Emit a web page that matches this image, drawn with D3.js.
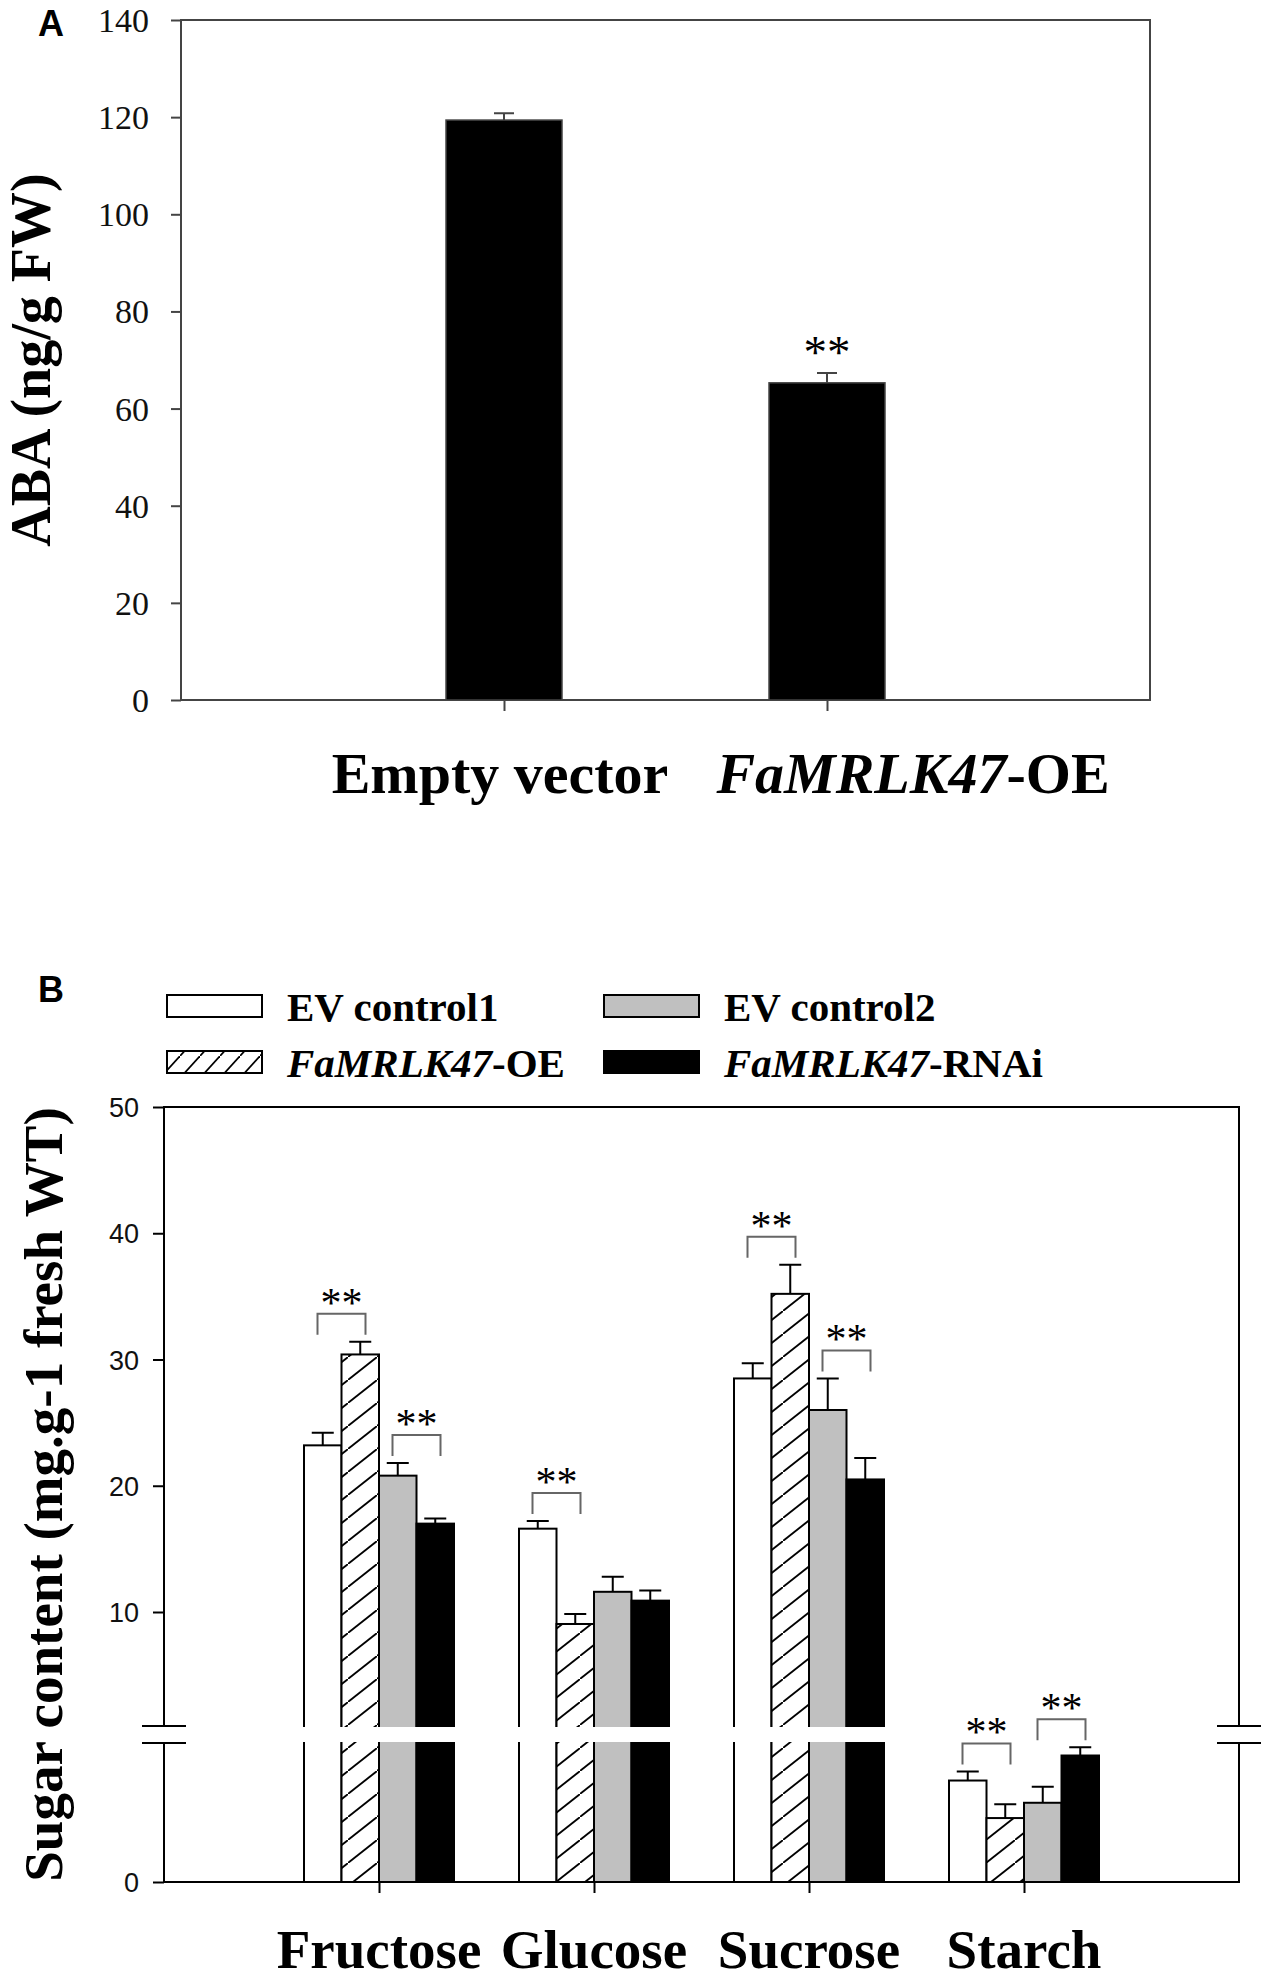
<!DOCTYPE html>
<html>
<head>
<meta charset="utf-8">
<script src="https://cdn.jsdelivr.net/npm/d3@7"></script>
<style>
  html, body { margin: 0; padding: 0; background: #fff; }
  svg { display: block; }
  .serif-ticks text { font-family: "Liberation Serif", "Times New Roman", serif !important; }
</style>
</head>
<body>
<svg id="chart" width="1270" height="1979"></svg>
<script>
// ---- Panel A data ----
const abaGroups = ['Empty vector', 'FaMRLK47-OE'];
const abaValues = [119.4, 65.3];
const abaErrors = [1.4, 2.0];
const abaStars = ['', '**'];
const abaTicks = [0, 20, 40, 60, 80, 100, 120, 140];

// ---- Panel B data ----
const sugars = ['Fructose', 'Glucose', 'Sucrose', 'Starch'];
const lines = ['EV control1', 'FaMRLK47-OE', 'EV control2', 'FaMRLK47-RNAi'];
const ev1Values = [23.2, 16.6, 28.5, 0.73];
const ev1Errors = [1.0, 0.6, 1.2, 0.065];
const oeValues = [30.4, 9.05, 35.2, 0.46];
const oeErrors = [1.0, 0.8, 2.3, 0.10];
const ev2Values = [20.8, 11.6, 26.0, 0.57];
const ev2Errors = [1.0, 1.2, 2.5, 0.115];
const rnaiValues = [17.0, 10.9, 20.5, 0.91];
const rnaiErrors = [0.4, 0.8, 1.7, 0.06];
// significance brackets: [sugar index, line a, line b]
const sugarSig = [[0, 0, 1], [0, 2, 3], [1, 0, 1], [2, 0, 1], [2, 2, 3], [3, 0, 1], [3, 2, 3]];
const sugarTicks = [0, 10, 20, 30, 40, 50];

const svg = d3.select('#chart');
const serif = '"Liberation Serif", "Times New Roman", serif';
const sans = '"Liberation Sans", Arial, sans-serif';

const defs = svg.append('defs');
function hatch(id, w, h) {
  const p = defs.append('pattern')
    .attr('id', id)
    .attr('patternUnits', 'userSpaceOnUse')
    .attr('width', w)
    .attr('height', h);
  p.append('rect').attr('width', w).attr('height', h).attr('fill', '#fff');
  p.append('line')
    .attr('x1', 0).attr('y1', h).attr('x2', w).attr('y2', 0)
    .attr('stroke', '#000').attr('stroke-width', 1.8);
}
hatch('hatchBar', 29, 23);
hatch('hatchKey', 20, 22);

// ================= Panel A =================
function drawPanelA() {
  const left = 181, right = 1150, top = 20, bottom = 700;
  const stroke = '#444';
  const g = svg.append('g').attr('class', 'panel-a');

  const x = d3.scalePoint().domain(abaGroups).range([left, right]).padding(1);
  const y = d3.scaleLinear().domain([0, 140]).range([bottom, top]);
  const barW = 116;

  // frame
  g.append('rect')
    .attr('x', left).attr('y', top)
    .attr('width', right - left).attr('height', bottom - top)
    .attr('fill', 'none').attr('stroke', stroke).attr('stroke-width', 2);

  // y axis (Times-style numbers)
  const yAxis = g.append('g')
    .attr('class', 'serif-ticks')
    .attr('transform', `translate(${left},0)`)
    .call(d3.axisLeft(y).tickValues(abaTicks).tickSize(10).tickPadding(22).tickSizeOuter(0));
  yAxis.attr('font-family', serif).attr('font-size', 34);
  yAxis.select('.domain').remove();
  yAxis.selectAll('line').attr('stroke', stroke).attr('stroke-width', 2);
  yAxis.selectAll('text')
    .attr('font-family', serif).attr('font-size', 34).attr('fill', '#111')
    .attr('dy', '0.34em');

  // x ticks
  const xAxis = g.append('g')
    .attr('transform', `translate(0,${bottom})`)
    .call(d3.axisBottom(x).tickSize(11).tickFormat(''));
  xAxis.select('.domain').remove();
  xAxis.selectAll('line').attr('stroke', stroke).attr('stroke-width', 2);

  // bars
  g.selectAll('rect.bar')
    .data(abaGroups)
    .join('rect')
    .attr('class', 'bar')
    .attr('x', d => x(d) - barW / 2)
    .attr('y', (d, i) => y(abaValues[i]))
    .attr('width', barW)
    .attr('height', (d, i) => y(0) - y(abaValues[i]))
    .attr('fill', '#000').attr('stroke', stroke).attr('stroke-width', 1.5);

  // error bars (upper half only)
  abaGroups.forEach((d, i) => {
    const cx = x(d), y0 = y(abaValues[i]), y1 = y(abaValues[i] + abaErrors[i]);
    g.append('path')
      .attr('d', `M${cx},${y0}V${y1}M${cx - 10},${y1}H${cx + 10}`)
      .attr('stroke', stroke).attr('stroke-width', 2).attr('fill', 'none');
    if (abaStars[i]) {
      g.append('text')
        .attr('x', cx).attr('y', y1 - 5)
        .attr('text-anchor', 'middle')
        .attr('font-family', serif).attr('font-size', 47)
        .text(abaStars[i]);
    }
  });

  // category labels (placed like the original, second one shifted right)
  const labelShift = [-4, 86];
  abaGroups.forEach((d, i) => {
    const t = g.append('text')
      .attr('x', x(d) + labelShift[i]).attr('y', 793)
      .attr('text-anchor', 'middle')
      .attr('font-family', serif).attr('font-size', 58).attr('font-weight', 'bold');
    if (d.startsWith('FaMRLK47')) {
      t.append('tspan').attr('font-style', 'italic').text('FaMRLK47');
      t.append('tspan').text(d.slice(8));
    } else {
      t.text(d);
    }
  });

  // y title
  g.append('text')
    .attr('transform', `translate(50,${(top + bottom) / 2}) rotate(-90)`)
    .attr('text-anchor', 'middle')
    .attr('font-family', serif).attr('font-size', 56).attr('font-weight', 'bold')
    .text('ABA (ng/g FW)');

  g.append('text')
    .attr('x', 38).attr('y', 36)
    .attr('font-family', sans).attr('font-size', 36).attr('font-weight', 'bold')
    .text('A');
}

// ================= Panel B =================
function drawPanelB() {
  const left = 164, right = 1239, top = 1107, bottom = 1882;
  const breakHi = 1726, breakLo = 1743; // gap in the axis
  const g = svg.append('g').attr('class', 'panel-b');

  const x0 = d3.scalePoint().domain(sugars).range([left, right]).padding(1);
  const x1 = d3.scaleBand().domain(lines).range([-75, 75]);
  const yUp = d3.scaleLinear().domain([10, 50]).range([1612, top]);
  const yLow = d3.scaleLinear().domain([0, 1]).range([bottom, breakLo]);
  const y = v => (v <= 1 ? yLow(v) : yUp(v));

  const values = [ev1Values, oeValues, ev2Values, rnaiValues];
  const errors = [ev1Errors, oeErrors, ev2Errors, rnaiErrors];
  const fills = ['#fff', 'url(#hatchBar)', '#c0c0c0', '#000'];

  const bars = [];
  sugars.forEach((s, i) => lines.forEach((l, j) => {
    bars.push({ s, l, i, j, v: values[j][i], e: errors[j][i] });
  }));

  // bars
  g.selectAll('rect.bar')
    .data(bars)
    .join('rect')
    .attr('class', 'bar')
    .attr('x', d => x0(d.s) + x1(d.l))
    .attr('y', d => y(d.v))
    .attr('width', x1.bandwidth())
    .attr('height', d => y(0) - y(d.v))
    .attr('fill', d => fills[d.j])
    .attr('stroke', '#000').attr('stroke-width', 2);

  // error bars
  g.selectAll('path.err')
    .data(bars)
    .join('path')
    .attr('class', 'err')
    .attr('d', d => {
      const cx = x0(d.s) + x1(d.l) + x1.bandwidth() / 2;
      const y0 = y(d.v), y1 = y(d.v + d.e);
      return `M${cx},${y0}V${y1}M${cx - 11},${y1}H${cx + 11}`;
    })
    .attr('stroke', '#000').attr('stroke-width', 2).attr('fill', 'none');

  // axis break: white band through the plot
  g.append('rect')
    .attr('x', left - 30).attr('y', breakHi + 1)
    .attr('width', right - left + 60).attr('height', breakLo - breakHi - 2)
    .attr('fill', '#fff');

  // frame with breaks on both sides
  const frame = [
    `M${left},${breakHi}V${top}H${right}V${breakHi}`,
    `M${left},${breakLo}V${bottom}H${right}V${breakLo}`,
    `M${left - 22},${breakHi}H${left + 22}M${left - 22},${breakLo}H${left + 22}`,
    `M${right - 22},${breakHi}H${right + 22}M${right - 22},${breakLo}H${right + 22}`
  ];
  g.append('path')
    .attr('d', frame.join(''))
    .attr('fill', 'none').attr('stroke', '#000').attr('stroke-width', 2);

  // y ticks: upper segment and zero
  const tickG = g.append('g').attr('transform', `translate(${left},0)`);
  const fmt = d3.format('d');
  const upAxis = tickG.append('g')
    .call(d3.axisLeft(yUp).tickValues(sugarTicks.filter(t => t > 1)).tickFormat(fmt)
      .tickSize(11).tickPadding(14).tickSizeOuter(0));
  const lowAxis = tickG.append('g')
    .call(d3.axisLeft(yLow).tickValues(sugarTicks.filter(t => t <= 1)).tickFormat(fmt)
      .tickSize(11).tickPadding(14).tickSizeOuter(0));
  [upAxis, lowAxis].forEach(a => {
    a.select('.domain').remove();
    a.selectAll('line').attr('stroke', '#000').attr('stroke-width', 2);
    a.selectAll('text')
      .style('font-family', sans).style('font-size', '27px').attr('fill', '#111')
      .attr('dy', '0.36em');
  });

  // x ticks
  const xAxis = g.append('g')
    .attr('transform', `translate(0,${bottom})`)
    .call(d3.axisBottom(x0).tickSize(11).tickFormat(''));
  xAxis.select('.domain').remove();
  xAxis.selectAll('line').attr('stroke', '#000').attr('stroke-width', 2);

  g.selectAll('text.cat')
    .data(sugars)
    .join('text')
    .attr('class', 'cat')
    .attr('x', d => x0(d)).attr('y', 1968)
    .attr('text-anchor', 'middle')
    .attr('font-family', serif).attr('font-size', 55).attr('font-weight', 'bold')
    .text(d => d);

  // significance brackets
  sugarSig.forEach(([i, a, b]) => {
    const s = sugars[i];
    const ca = x0(s) + x1(lines[a]) + x1.bandwidth() / 2;
    const cb = x0(s) + x1(lines[b]) + x1.bandwidth() / 2;
    const mid = (ca + cb) / 2;
    const hi = Math.max(values[a][i] + errors[a][i], values[b][i] + errors[b][i]);
    const yb = y(hi) - 7, yt = yb - 21;
    g.append('path')
      .attr('d', `M${mid - 24},${yb}V${yt}H${mid + 24}V${yb}`)
      .attr('fill', 'none').attr('stroke', '#666').attr('stroke-width', 2);
    g.append('text')
      .attr('x', mid).attr('y', yt + 3)
      .attr('text-anchor', 'middle')
      .attr('font-family', serif).attr('font-size', 42)
      .text('**');
  });

  // legend
  const key = [
    { x: 167, y: 995 }, { x: 167, y: 1051 },
    { x: 604, y: 995 }, { x: 604, y: 1051 }
  ];
  const keyFill = ['#fff', 'url(#hatchKey)', '#c0c0c0', '#000'];
  lines.forEach((l, j) => {
    const k = key[j];
    g.append('rect')
      .attr('x', k.x).attr('y', k.y).attr('width', 95).attr('height', 22)
      .attr('fill', keyFill[j]).attr('stroke', '#000').attr('stroke-width', 2);
    const t = g.append('text')
      .attr('x', k.x + 120).attr('y', k.y + 26)
      .attr('font-family', serif).attr('font-size', 41).attr('font-weight', 'bold');
    if (l.startsWith('FaMRLK47')) {
      t.append('tspan').attr('font-style', 'italic').text('FaMRLK47');
      t.append('tspan').text(l.slice(8));
    } else {
      t.text(l);
    }
  });

  // y title
  g.append('text')
    .attr('transform', `translate(62,${(top + bottom) / 2}) rotate(-90)`)
    .attr('text-anchor', 'middle')
    .attr('font-family', serif).attr('font-size', 55).attr('font-weight', 'bold')
    .text('Sugar content (mg.g-1 fresh WT)');

  g.append('text')
    .attr('x', 38).attr('y', 1002)
    .attr('font-family', sans).attr('font-size', 36).attr('font-weight', 'bold')
    .text('B');
}

drawPanelA();
drawPanelB();
</script>
</body>
</html>
